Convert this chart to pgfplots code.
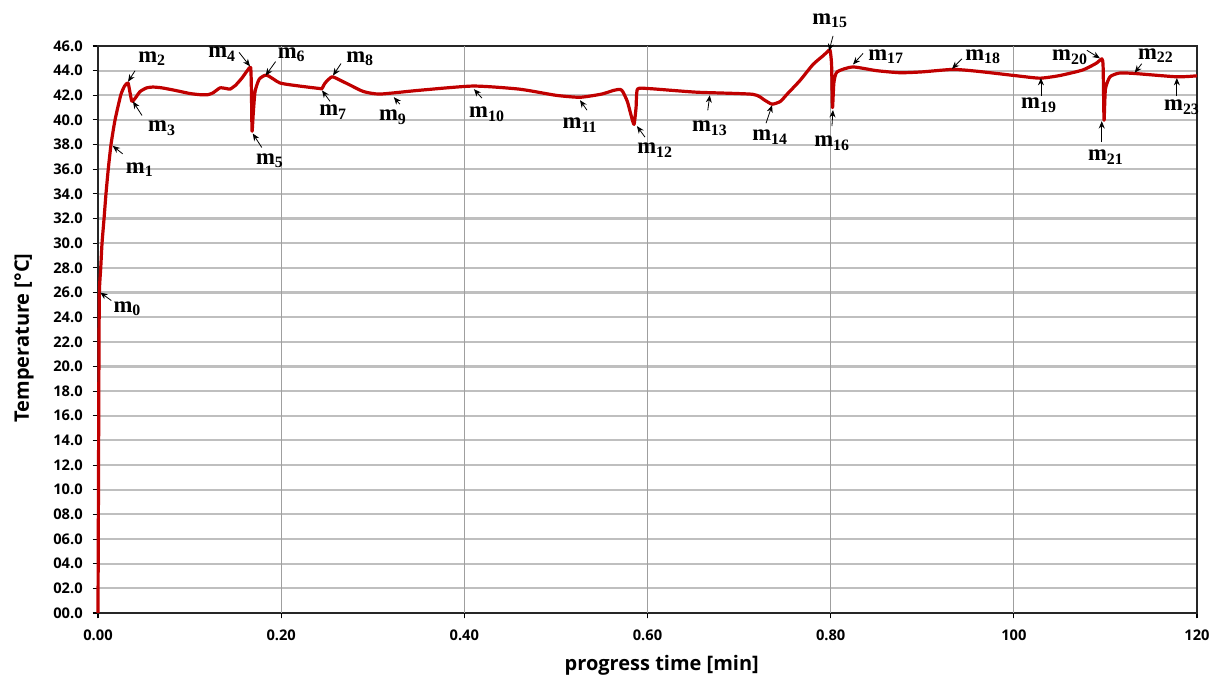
\documentclass[border=0pt]{standalone}
\usepackage{fontspec}
\setmainfont{Liberation Serif}
\setsansfont{Open Sans}
\usepackage{pgfplots}
\pgfplotsset{compat=1.18}
\usetikzlibrary{arrows.meta}
\definecolor{curvered}{RGB}{192,0,0}
\newcommand\tl[1]{\textbf{\sffamily #1}}
\tikzset{
  annarrow/.style={draw=black, line width=0.6pt, -{Stealth[length=5.5pt,width=4.5pt]}},
  annlabel/.style={font=\rmfamily\bfseries\fontsize{17}{20}\selectfont, inner sep=0pt},
}
\newcommand\ann[7]{%
  \draw[annarrow] (axis cs:#1,#2) ++(#3*0.75pt,#4*0.75pt) -- (axis cs:#1,#2);
  \node[annlabel, xshift=#5*0.75pt, yshift=#6*0.75pt] at (axis cs:#1,#2) {m\textsubscript{#7}};
}
\begin{document}
\begin{tikzpicture}
\path[use as bounding box] (-73.5pt,-51pt) rectangle (837.75pt,459.75pt);
\begin{axis}[
  at={(0,0)}, anchor=south west,
  scale only axis, width=824.25pt, height=425.25pt,
  xmin=0, xmax=120, ymin=0, ymax=46,
  xtick={0,20,...,120},
  xticklabels={\tl{0.00},\tl{0.20},\tl{0.40},\tl{0.60},\tl{0.80},\tl{100},\tl{120}},
  ytick={0,2,...,46},
  yticklabels={\tl{00.0},\tl{02.0},\tl{04.0},\tl{06.0},\tl{08.0},\tl{10.0},\tl{12.0},\tl{14.0},\tl{16.0},\tl{18.0},\tl{20.0},\tl{22.0},\tl{24.0},\tl{26.0},\tl{28.0},\tl{30.0},\tl{32.0},\tl{34.0},\tl{36.0},\tl{38.0},\tl{40.0},\tl{42.0},\tl{44.0},\tl{46.0}},
  tick align=outside, tick pos=left, major tick length=4pt,
  tick style={black, line width=0.8pt},
  ymajorgrids,
  major grid style={color=gray!50, line width=1.6pt},
  extra x ticks={20,40,60,80,100},
  extra x tick labels={},
  extra x tick style={grid=major, major grid style={color=gray!75, line width=0.9pt}},
  axis line style={black!85, line width=1.2pt},
  ticklabel style={font=\sffamily\bfseries\fontsize{11}{13}\selectfont},
  xticklabel style={yshift=-5pt},
  yticklabel style={xshift=-4pt},
  xlabel={progress time [min]},
  ylabel={Temperature [°C]},
  label style={font=\sffamily\bfseries\fontsize{15}{18}\selectfont},
  xlabel style={at={(axis description cs:0.513,-0.0917)}, anchor=center},
  ylabel style={at={(axis description cs:-0.0673,0.485)}, anchor=center},
  clip=false,
]
\addplot[curvered, line width=2.4pt, line join=round, smooth, tension=0.35] coordinates {
(0,0) (0.05,10) (0.1,20) (0.15,26) (0.3,28) (0.44,30) (0.66,32) (0.87,34)
(1.12,36) (1.42,38) (1.86,40) (2.48,42) (2.9,42.75) (3.28,43.0) (3.5,42.2)
(3.71,41.5) (4.1,41.8) (4.59,42.3) (5.3,42.6) (6.0,42.67) (7.0,42.6) (8.41,42.4)
(10.0,42.15) (11.14,42.05) (12.0,42.05) (12.56,42.2) (13.32,42.6) (14.0,42.55)
(14.41,42.5) (15.0,42.8) (15.72,43.4) (16.3,44.0) (16.67,44.24) (16.75,42.5)
(16.82,39.1) (16.95,40.5) (17.15,42.3) (17.6,43.3) (18.42,43.64) (19.87,43.0)
(22.0,42.75) (24.2,42.55) (24.46,42.55) (24.8,43.0) (25.55,43.5) (26.5,43.2)
(27.52,42.83) (29.0,42.3) (30.79,42.1) (35.0,42.4) (40.95,42.75) (46.0,42.5)
(50.0,42.0) (52.63,41.84) (55.0,42.1) (56.3,42.4) (57.0,42.48) (57.3,42.3)
(57.8,41.5) (58.2,40.4) (58.53,39.64) (58.75,41.0) (58.9,42.5) (60.0,42.55)
(61.0,42.5) (65.4,42.25) (71.5,42.08) (72.8,41.6) (73.6,41.28) (74.5,41.5)
(75.23,42.08) (76.65,43.2) (78.07,44.5) (79.16,45.2) (79.6,45.5) (79.93,45.66)
(80.1,44.5) (80.2,41.0) (80.35,43.0) (80.7,43.9) (82.4,44.3) (85.0,44.0)
(87.6,43.83) (90.0,43.9) (93.35,44.1) (96.0,43.95) (100.34,43.58) (102.85,43.39)
(105.0,43.6) (107.55,44.06) (109.0,44.6) (109.62,44.95) (109.75,44.3)
(109.85,39.97) (110.0,42.5) (110.5,43.5) (111.5,43.8) (113.0,43.78)
(117.8,43.5) (120,43.58)
};
\ann{0.25}{26}{11}{-8}{27}{-16}{0}
\ann{1.6}{37.9}{10}{-8}{27}{-24}{1}
\ann{3.28}{43.1}{7}{11}{24}{23}{2}
\ann{3.82}{41.5}{9}{-14}{29}{-27}{3}
\ann{16.6}{44.35}{-11}{14}{-28}{12}{4}
\ann{16.9}{38.9}{9}{-14}{17}{-27}{5}
\ann{18.3}{43.6}{10}{14}{26}{21}{6}
\ann{24.46}{42.4}{8}{-11}{11}{-22}{7}
\ann{25.66}{43.6}{8}{12}{27}{17}{8}
\ann{32.3}{41.85}{6}{-7}{-1}{-20}{9}
\ann{41.05}{42.5}{8}{-9}{13}{-25}{10}
\ann{52.63}{41.6}{7}{-10}{0}{-25}{11}
\ann{58.85}{39.5}{8}{-11}{18}{-24}{12}
\ann{66.8}{42.0}{-2}{-15}{0}{-33}{13}
\ann{73.6}{41.2}{-6}{-18}{-2}{-32}{14}
\ann{79.82}{45.6}{4}{15}{1}{30}{15}
\ann{80.25}{40.8}{-1}{-16}{-1}{-33}{16}
\ann{82.44}{44.5}{10}{11}{33}{8}{17}
\ann{93.25}{44.15}{10}{10}{31}{12}{18}
\ann{102.96}{43.4}{0}{-18}{-2}{-27}{19}
\ann{109.4}{45.0}{-13}{8}{-30}{1}{20}
\ann{109.6}{39.9}{0}{-21}{4}{-36}{21}
\ann{113.2}{43.83}{7}{9}{21}{17}{22}
\ann{117.8}{43.4}{0}{-18}{5}{-29}{23}
\end{axis}
\end{tikzpicture}
\end{document}
